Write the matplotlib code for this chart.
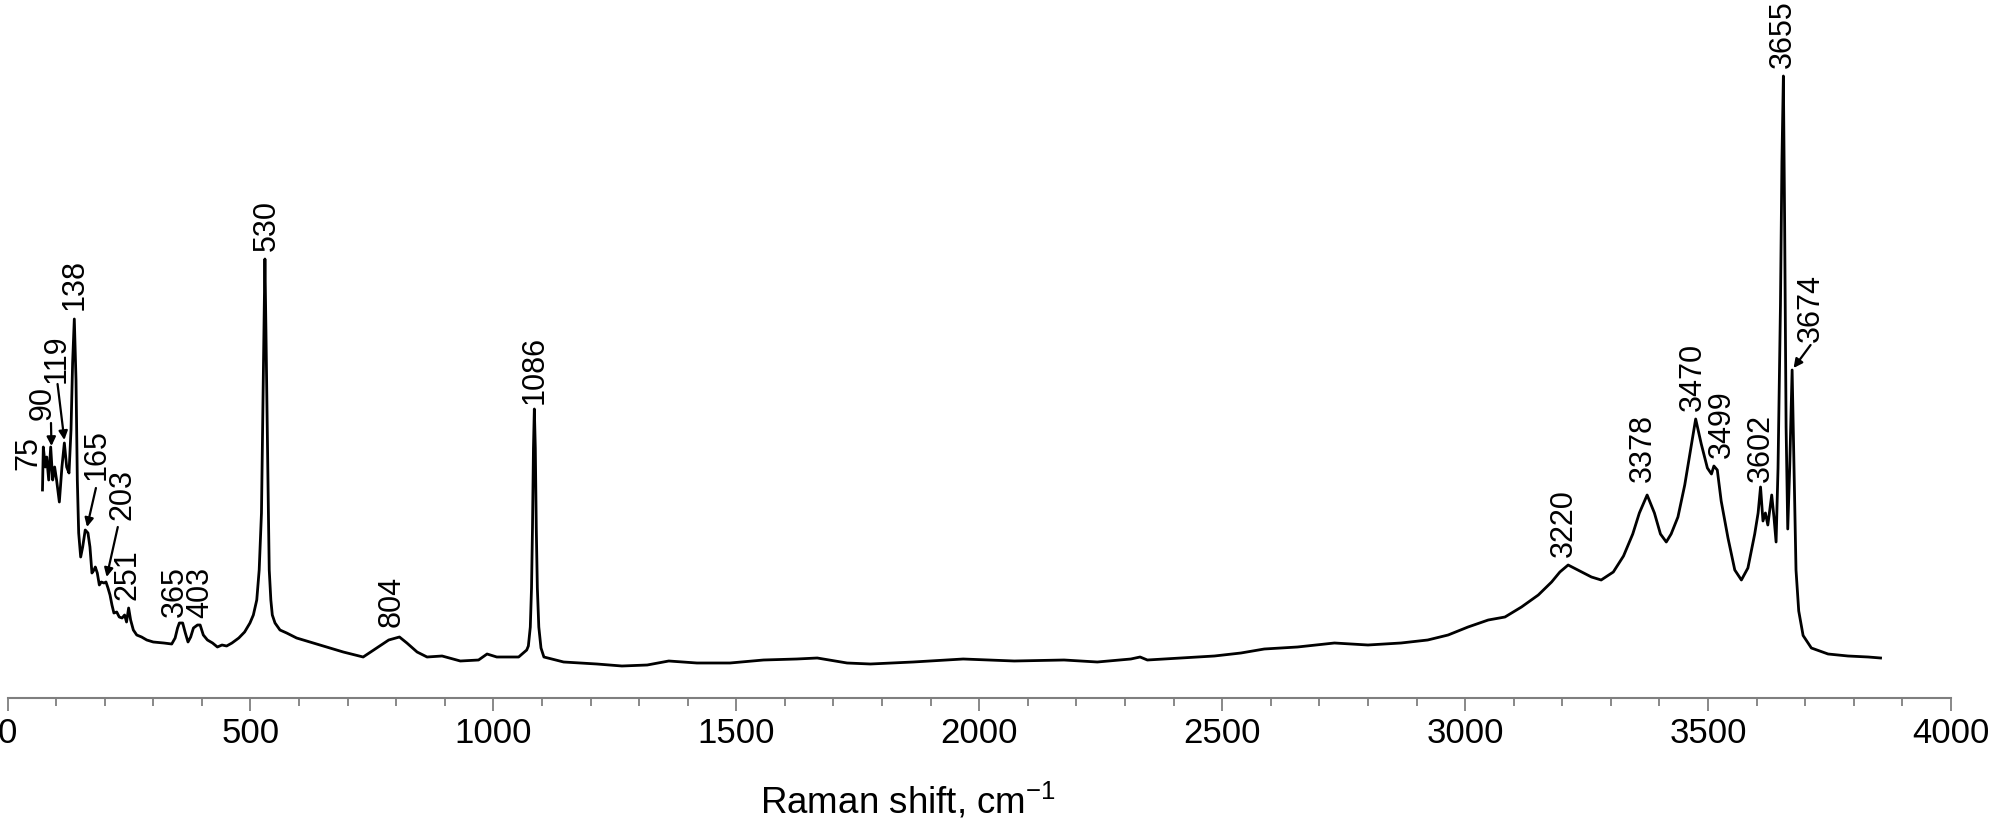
import matplotlib
matplotlib.use("Agg")
import matplotlib.pyplot as plt
import numpy as np

plt.rcParams['font.family'] = ['Liberation Sans', 'DejaVu Sans']
plt.rcParams['mathtext.default'] = 'regular'

# Raman spectrum (shift in cm-1, intensity in a.u.)
shift = [72, 73.7, 77.8, 80.7, 84.8, 88.9, 93, 97, 101, 106.7, 112, 117, 121.8, 126.6,
         130.7, 134, 137.5, 141, 143.7, 146.5, 150.6, 154.7, 160, 165.6, 169.7, 173.8,
         178, 180.7, 184.8, 189, 193, 198.6, 202.7, 206.8, 211, 215, 219, 224.8, 230,
         235.8, 241, 245, 249.3, 253.4, 259, 266, 276, 286.6, 300, 321.7, 338, 345, 350,
         353.7, 360.5, 366, 371.5, 377, 382.7, 391, 396.5, 403, 411.5, 422, 432, 441.5,
         451, 462, 476, 488, 499, 506, 513, 518, 522.7, 525, 527.8, 529.8, 531.9, 534.6,
         537, 538.7, 542, 545, 550.6, 560.8, 574.6, 595, 622.6, 657, 691, 732, 760,
         784.6, 806.7, 822, 843, 863.5, 894.4, 932, 969.5, 987, 1007, 1052, 1068.6,
         1072, 1076, 1078.5, 1080.5, 1082.5, 1084.3, 1086.3, 1088.3, 1090.5, 1093.5,
         1098, 1104, 1144.6, 1213, 1264.6, 1316.6, 1361, 1419, 1487, 1556, 1624.5,
         1666.6, 1728, 1776, 1864, 1967, 2072, 2174.5, 2243, 2312, 2331, 2346, 2415,
         2484, 2538.6, 2586.6, 2655, 2731, 2800, 2868, 2923, 2965, 3006, 3047.6, 3082,
         3116, 3150.6, 3178, 3195, 3212, 3232, 3260, 3280, 3305, 3326, 3345, 3358.6,
         3374.6, 3389.6, 3402, 3414, 3424, 3438, 3452, 3464.5, 3474.5, 3486, 3498.6,
         3507, 3512, 3519, 3527, 3541, 3555, 3568.6, 3582, 3596, 3603, 3608, 3613, 3618,
         3623, 3631, 3635.6, 3640, 3644, 3649, 3652, 3655, 3657.6, 3660.6, 3664, 3668,
         3673, 3677, 3681, 3686.6, 3695.6, 3712.6, 3747, 3788, 3829.6, 3855]
intensity = [208, 251, 231, 241, 218, 251, 218, 231, 218, 196, 231, 255, 231, 225,
             268, 335, 379, 318, 218, 165, 141, 151, 168, 165, 151, 125,
             128, 131, 125, 113, 116, 115, 116, 110, 103, 93, 85, 86, 81,
             80, 83, 76, 90, 78, 68, 63, 61, 58, 56, 55, 54, 60, 70,
             75, 75, 65, 56, 61, 70, 73, 73, 63, 58, 55, 51, 53,
             52, 55, 60, 66, 75, 83, 98, 128, 185, 268, 368, 439, 368, 268,
             185, 128, 98, 83, 75, 68, 65, 60, 56, 51, 46, 41, 50,
             58, 61, 55, 46, 41, 42, 37, 38, 44, 41, 41, 48,
             52, 71, 110, 170, 250, 289, 250, 170, 110, 71,
             50, 41, 36, 34, 32, 33, 37, 35, 35, 38, 39,
             40, 35, 34, 36, 39, 37, 38, 36, 39, 41, 38, 40,
             42, 45, 49, 51, 55, 53, 55, 58, 63, 71, 78, 81,
             91, 103, 116, 126, 133, 128, 121, 118, 126, 142, 164, 185,
             203, 185, 164, 156, 164, 181, 213, 250, 279, 254, 230,
             224, 232, 228, 197, 160, 128, 118, 130, 164, 185, 211, 177, 185,
             173, 203, 181, 156, 230, 393, 536, 622, 475, 271, 169, 230,
             328, 230, 128, 87, 62.5, 50, 44, 42, 41, 40]

# peak labels: text, label position (shift, intensity), arrow start/end for some
peak_labels = ['75', '90', '119', '138', '165', '203', '251', '365', '403', '530', '804',
               '1086', '3220', '3378', '3470', '3499', '3602', '3655', '3674']
label_x = [42, 73, 102, 139, 183.6, 237.6, 248, 344.6, 396, 533, 791,
           1084, 3203, 3365, 3468, 3528, 3608, 3653, 3711]
label_y = [228, 278, 315, 388, 218, 178, 98, 81, 80, 447, 71,
           294, 141, 216, 287, 240, 216, 630, 356]
arrow_from = {'90': (89.5, 275), '119': (103, 314), '165': (182, 210),
              '203': (227, 171), '3674': (3711, 353)}
arrow_to = {'90': (90.5, 252), '119': (117, 258), '165': (163.6, 171),
            '203': (204, 121), '3674': (3676, 330)}

fig = plt.figure(figsize=(20, 8.21), dpi=100)
ax = fig.add_axes([7.5 / 2000, 123 / 821, (1951 - 7.5) / 2000, 698 / 821])

ax.plot(shift, intensity, color='black', lw=2.0)

for name, x, y in zip(peak_labels, label_x, label_y):
    ax.text(x, y, name, rotation=90, ha='center', va='bottom', fontsize=22)
    if name in arrow_from:
        ax.annotate('', xy=arrow_to[name], xytext=arrow_from[name],
                    arrowprops=dict(arrowstyle='-|>', color='black', lw=1.6,
                                    mutation_scale=13, shrinkA=0, shrinkB=0))

ax.set_xlim(0, 4000)
ax.set_ylim(0, 698)
ax.set_xticks(np.arange(0, 4001, 500))
ax.set_xticks(np.arange(0, 4001, 100), minor=True)
ax.tick_params(axis='x', which='major', length=9, width=1.3, color='#7f7f7f',
               labelsize=25, pad=5)
ax.tick_params(axis='x', which='minor', length=6, width=1.3, color='#7f7f7f')
ax.set_yticks([])
for s in ['top', 'left', 'right']:
    ax.spines[s].set_visible(False)
ax.spines['bottom'].set_color('#7f7f7f')
ax.spines['bottom'].set_linewidth(1.5)
ax.patch.set_visible(False)

fig.text(908 / 2000, 8 / 821, 'Raman shift, cm$^{-1}$', fontsize=26.5,
         ha='center', va='baseline')

fig.savefig('out.png', dpi=100)
